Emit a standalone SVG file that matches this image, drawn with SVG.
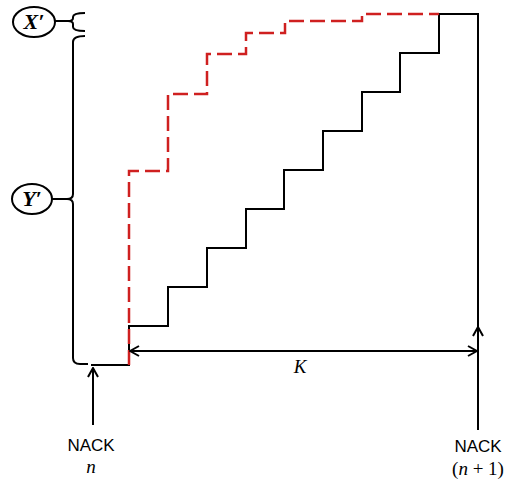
<svg xmlns="http://www.w3.org/2000/svg" width="511" height="481" viewBox="0 0 511 481">
  <style>
    .ln { fill: none; stroke: #000; stroke-width: 2; stroke-linejoin: miter; }
    .red { fill: none; stroke: #cf2020; stroke-width: 2.5; stroke-dasharray: 15 6; }
    .ell { fill: #fff; stroke: #000; stroke-width: 2; }
    .lab { font-family: "Liberation Serif", "DejaVu Serif", serif; font-weight: bold; font-style: italic; font-size: 22px; }
    .sans { font-family: "Liberation Sans", Arial, sans-serif; font-size: 17px; }
    .math { font-family: "Liberation Serif", "DejaVu Serif", serif; font-size: 19px; }
    .it { font-style: italic; }
  </style>
  <defs>
    <marker id="chev" viewBox="0 0 12 12" refX="11" refY="6" markerWidth="12" markerHeight="12" markerUnits="userSpaceOnUse" orient="auto-start-reverse">
      <path d="M2,1 L11,6 L2,11" fill="none" stroke="#000" stroke-width="2"/>
    </marker>
  </defs>
  <rect width="511" height="481" fill="#fff"/>

  <g id="connectors">
    <!-- black staircase -->
    <path class="ln" d="M91,365 H129 V326 H168 V287 H207 V248 H246 V209 H284 V170 H323 V131 H362 V92 H400 V53 H439 V14 H478 V430"/>
    <!-- red dashed staircase -->
    <path class="red" d="M129,365 V171 H168 V94 H207 V54 H246 V33 H285 V21 H362 V14 H439"/>
    <!-- K dimension arrow -->
    <line class="ln" x1="130" y1="351" x2="477" y2="351" marker-start="url(#chev)" marker-end="url(#chev)"/>
    <!-- NACK n arrow -->
    <line class="ln" x1="93" y1="425" x2="93" y2="368" marker-end="url(#chev)"/>
    <!-- NACK n+1 arrowhead on vertical -->
    <line class="ln" x1="478" y1="345" x2="478" y2="327" marker-end="url(#chev)"/>
    <!-- X' brace -->
    <path class="ln" d="M55,21 H68"/>
    <path class="ln" d="M85,13 Q73,13 73,17 V18 Q73,21 68,21 Q73,21 73,24 V27 Q73,31 85,31"/>
    <!-- Y' brace -->
    <path class="ln" d="M52,199 H67"/>
    <path class="ln" d="M85,36 Q73,36 73,42 V194 Q73,199 67,199 Q73,199 73,204 V358 Q73,364 80,364 H88"/>
  </g>

  <g id="node-xprime">
    <ellipse class="ell" cx="34" cy="22" rx="21" ry="15"/>
    <text class="lab" x="34" y="29" text-anchor="middle">X′</text>
  </g>
  <g id="node-yprime">
    <ellipse class="ell" cx="32" cy="199" rx="20" ry="15"/>
    <text class="lab" x="32" y="206" text-anchor="middle">Y′</text>
  </g>
  <g id="node-k">
    <text class="math it" x="300" y="373" text-anchor="middle">K</text>
  </g>
  <g id="node-nack-n">
    <text class="sans" x="91" y="451" text-anchor="middle">NACK</text>
    <text class="math it" x="91" y="473" text-anchor="middle">n</text>
  </g>
  <g id="node-nack-n1">
    <text class="sans" x="478" y="452" text-anchor="middle">NACK</text>
    <text class="math" x="478" y="475" text-anchor="middle">(<tspan class="it">n</tspan> + 1)</text>
  </g>
</svg>
